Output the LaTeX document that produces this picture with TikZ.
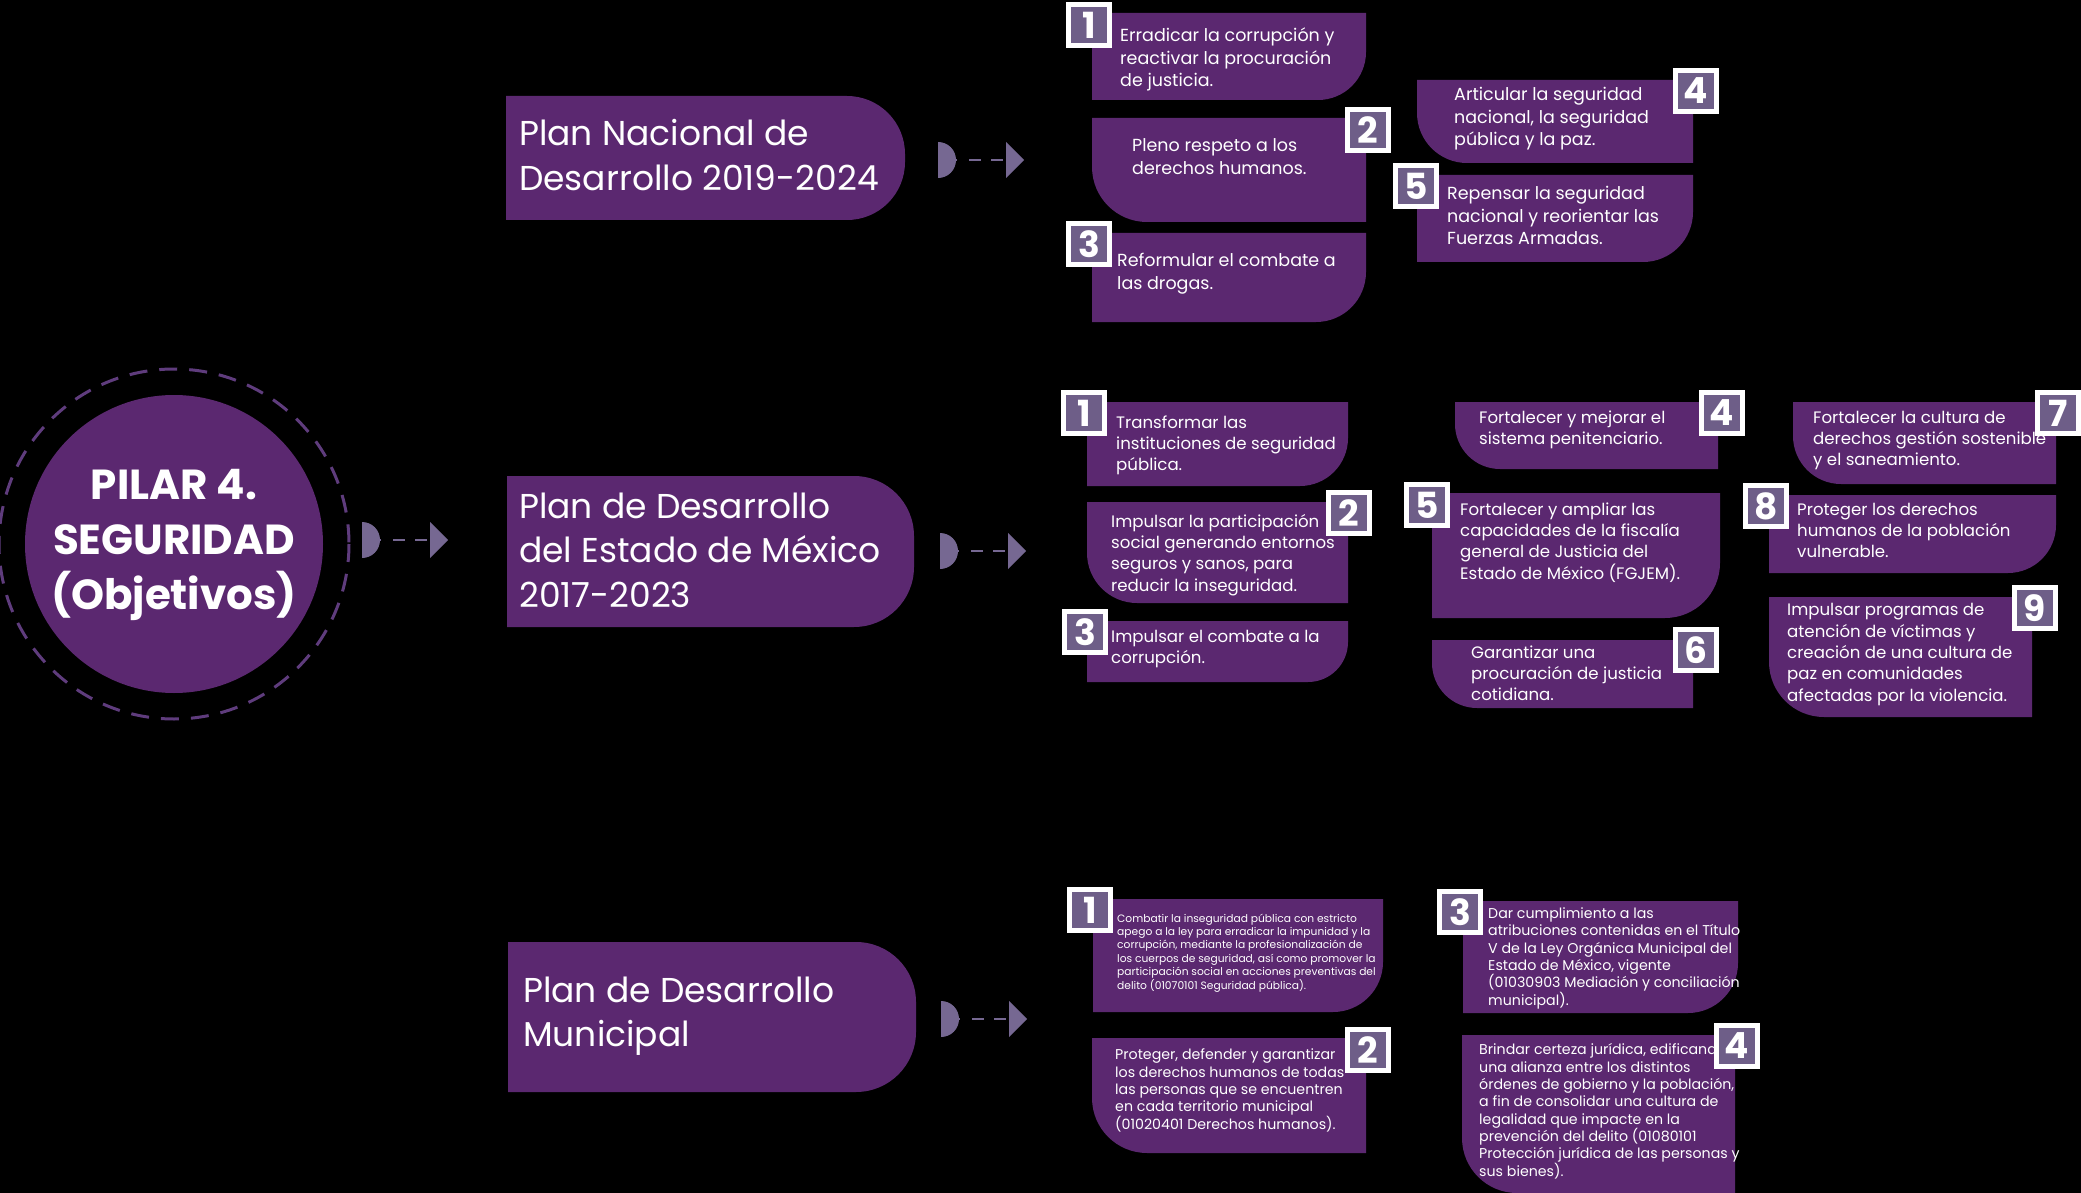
\documentclass[tikz,border=0pt]{standalone}
\usepackage{fontspec}
\setmainfont{Poppins}
\definecolor{objfill}{RGB}{91,40,112}
\definecolor{badgefill}{RGB}{110,94,136}
\definecolor{conncol}{RGB}{118,104,146}
\definecolor{ringcol}{RGB}{95,60,125}
\tikzset{
  objtext/.style={font=\fontsize{17.5}{22.5}\selectfont, text=white, align=left, inner sep=0pt, anchor=base west},
  estext/.style={objtext, font=\fontsize{16.6}{21.3}\selectfont},
  smalltext/.style={objtext, font=\fontsize{10.7}{13.4}\selectfont},
  munitext/.style={objtext, font=\fontsize{14.2}{17.3}\selectfont},
  plantext/.style={font=\fontsize{34.5}{44.5}\selectfont, text=white, align=left, inner sep=0pt, anchor=base west},
  badgenum/.style={font=\fontsize{36}{36}\bfseries\selectfont, text=white, inner sep=0pt},
  connline/.style={draw=conncol, line width=2.5pt, dash pattern=on 1pt off 12pt on 12pt off 10pt on 12pt off 3pt},
}
% box with rounded bottom-right corner: name, x1, y1, x2, y2, radius
\newcommand{\BoxBR}[6]{%
  \fill[objfill] (#2,#3) -- (#4,#3) -- (#4,{#5-#6}) .. controls (#4,{#5-0.4477*#6}) and ({#4-0.4477*#6},#5) .. ({#4-#6},#5) -- (#2,#5) -- cycle;
  \coordinate (#1) at ({(#2+#4)/2},{(#3+#5)/2});}
% box with rounded bottom-left corner
\newcommand{\BoxBL}[6]{%
  \fill[objfill] (#2,#3) -- (#4,#3) -- (#4,#5) -- ({#2+#6},#5) .. controls ({#2+0.4477*#6},#5) and (#2,{#5-0.4477*#6}) .. (#2,{#5-#6}) -- cycle;
  \coordinate (#1) at ({(#2+#4)/2},{(#3+#5)/2});}
% plan box, right side rounded
\newcommand{\PlanBox}[6]{%
  \fill[objfill] (#2,#3) -- ({#4-#6},#3) .. controls ({#4-0.4477*#6},#3) and (#4,{#3+0.4477*#6}) .. (#4,{#3+#6}) -- (#4,{#5-#6}) .. controls (#4,{#5-0.4477*#6}) and ({#4-0.4477*#6},#5) .. ({#4-#6},#5) -- (#2,#5) -- cycle;
  \coordinate (#1) at ({(#2+#4)/2},{(#3+#5)/2});}
% numbered badge: name, x, y (top-left), digit
\newcommand{\Badge}[4]{%
  \fill[white] (#2,#3) rectangle ++(46,46);
  \fill[badgefill] ({#2+5},{#3+5}) rectangle ++(36,36);
  \node[badgenum] (#1) at ({#2+23},{#3+23}) {#4};}
% connector: name, x, y
\newcommand{\Conn}[3]{%
  \fill[conncol] (#2,{#3-18}) .. controls ({#2+10},{#3-18}) and ({#2+18},{#3-10}) .. ({#2+18},#3) .. controls ({#2+18},{#3+10}) and ({#2+10},{#3+18}) .. (#2,{#3+18}) -- cycle;
  \coordinate (#1s) at ({#2+18},#3);
  \coordinate (#1e) at ({#2+68},#3);
  \fill[conncol] (#1e) ++(0,-18) -- ({#2+86},#3) -- ({#2+68},{#3+18}) -- cycle;
  \draw[connline] (#1s) -- (#1e);}
\begin{document}
\begin{tikzpicture}[x=1pt,y=-1pt]
\fill[black] (0,0) rectangle (2081,1193);
\useasboundingbox (0,0) rectangle (2081,1193);

% central circle
\node[circle, fill=objfill, minimum size=298pt, inner sep=0pt] (pilar) at (174,544) {};
\draw[ringcol, line width=3pt, dash pattern=on 18pt off 12pt] (pilar.center) circle[radius=175];
\node[font=\fontsize{42}{55}\bfseries\selectfont, text=white, align=center, inner sep=0pt, anchor=base] (pilartxt) at (174,609) {PILAR 4.\\SEGURIDAD\\(Objetivos)};
\Conn{c0}{362}{540}

% plan boxes
\PlanBox{pn}{506}{96}{905}{220}{58}
\node[plantext] (pnt) at (519,190.5) {Plan Nacional de\\Desarrollo 2019-2024};
\Conn{c1}{938}{160}

\PlanBox{pe}{507}{476}{914}{627}{60}
\node[plantext] (pet) at (519,607) {Plan de Desarrollo\\del Estado de México\\2017-2023};
\Conn{c2}{940}{551}

\PlanBox{pm}{508}{942}{916}{1092}{60}
\node[plantext] (pmt) at (523,1046.5) {Plan de Desarrollo\\Municipal};
\Conn{c3}{941}{1019}

% Nacional objectives
\BoxBR{n1}{1092}{13}{1366}{100}{48}
\node[objtext] (n1t) at (1120,87) {Erradicar la corrupción y\\reactivar la procuración\\de justicia.};
\BoxBL{n2}{1092}{118}{1366}{222}{55}
\node[objtext] (n2t) at (1132,174.5) {Pleno respeto a los\\derechos humanos.};
\BoxBR{n3}{1092}{233}{1366}{322}{50}
\node[objtext] (n3t) at (1117,289.5) {Reformular el combate a\\las drogas.};
\BoxBL{n4}{1417}{80}{1693}{163}{50}
\node[objtext] (n4t) at (1454,146) {Articular la seguridad\\nacional, la seguridad\\pública y la paz.};
\BoxBR{n5}{1417}{175}{1693}{262}{50}
\node[objtext] (n5t) at (1447,245) {Repensar la seguridad\\nacional y reorientar las\\Fuerzas Armadas.};

% Estado objectives
\BoxBR{e1}{1087}{402}{1348}{486}{48}
\node[estext] (e1t) at (1116,470.6) {Transformar las\\instituciones de seguridad\\pública.};
\BoxBL{e2}{1087}{502}{1348}{603}{50}
\node[estext] (e2t) at (1111,591) {Impulsar la participación\\social generando entornos\\seguros y sanos, para\\reducir la inseguridad.};
\BoxBR{e3}{1087}{621}{1348}{682}{40}
\node[estext] (e3t) at (1111,663.3) {Impulsar el combate a la\\corrupción.};
\BoxBL{e4}{1455}{402}{1718}{469}{45}
\node[estext] (e4t) at (1479,444.3) {Fortalecer y mejorar el\\sistema penitenciario.};
\BoxBR{e5}{1432}{493}{1720}{618}{55}
\node[estext] (e5t) at (1460,579) {Fortalecer y ampliar las\\capacidades de la fiscalía\\general de Justicia del\\Estado de México (FGJEM).};
\BoxBL{e6}{1432}{640}{1693}{708}{45}
\node[estext] (e6t) at (1471,700.6) {Garantizar una\\procuración de justicia\\cotidiana.};
\BoxBL{e7}{1793}{402}{2056}{484}{48}
\node[estext] (e7t) at (1813,465.6) {Fortalecer la cultura de\\derechos gestión sostenible\\y el saneamiento.};
\BoxBR{e8}{1769}{495}{2056}{573}{48}
\node[estext] (e8t) at (1797,557.6) {Proteger los derechos\\humanos de la población\\vulnerable.};
\BoxBL{e9}{1769}{597}{2032}{717}{55}
\node[estext] (e9t) at (1787,701) {Impulsar programas de\\atención de víctimas y\\creación de una cultura de\\paz en comunidades\\afectadas por la violencia.};

% Municipal objectives
\BoxBR{m1}{1093}{899}{1383}{1012}{50}
\node[smalltext] (m1t) at (1117,989) {Combatir la inseguridad pública con estricto\\apego a la ley para erradicar la impunidad y la\\corrupción, mediante la profesionalización de\\los cuerpos de seguridad, así como promover la\\participación social en acciones preventivas del\\delito (01070101 Seguridad pública).};
\BoxBL{m2}{1092}{1038}{1366}{1153}{55}
\node[munitext] (m2t) at (1115,1129) {Proteger, defender y garantizar\\los derechos humanos de todas\\las personas que se encuentren\\en cada territorio municipal\\(01020401 Derechos humanos).};
\BoxBR{m3}{1463}{901}{1738}{1013}{50}
\node[munitext] (m3t) at (1488,1005) {Dar cumplimiento a las\\atribuciones contenidas en el Título\\V de la Ley Orgánica Municipal del\\Estado de México, vigente\\(01030903 Mediación y conciliación\\municipal).};
\BoxBL{m4}{1462}{1035}{1735}{1193}{55}
\node[munitext] (m4t) at (1479,1176) {Brindar certeza jurídica, edificando\\una alianza entre los distintos\\órdenes de gobierno y la población,\\a fin de consolidar una cultura de\\legalidad que impacte en la\\prevención del delito (01080101\\Protección jurídica de las personas y\\sus bienes).};

% badges
\Badge{bn1}{1066}{2}{1}
\Badge{bn2}{1345}{107}{2}
\Badge{bn3}{1066}{221}{3}
\Badge{bn4}{1673}{68}{4}
\Badge{bn5}{1393}{163}{5}
\Badge{be1}{1061}{390}{1}
\Badge{be2}{1326}{490}{2}
\Badge{be3}{1062}{609}{3}
\Badge{be4}{1699}{390}{4}
\Badge{be5}{1404}{482}{5}
\Badge{be6}{1673}{627}{6}
\Badge{be7}{2035}{390}{7}
\Badge{be8}{1743}{483}{8}
\Badge{be9}{2012}{585}{9}
\Badge{bm1}{1067}{887}{1}
\Badge{bm2}{1345}{1027}{2}
\Badge{bm3}{1437}{889}{3}
\Badge{bm4}{1714}{1023}{4}
\end{tikzpicture}
\end{document}
